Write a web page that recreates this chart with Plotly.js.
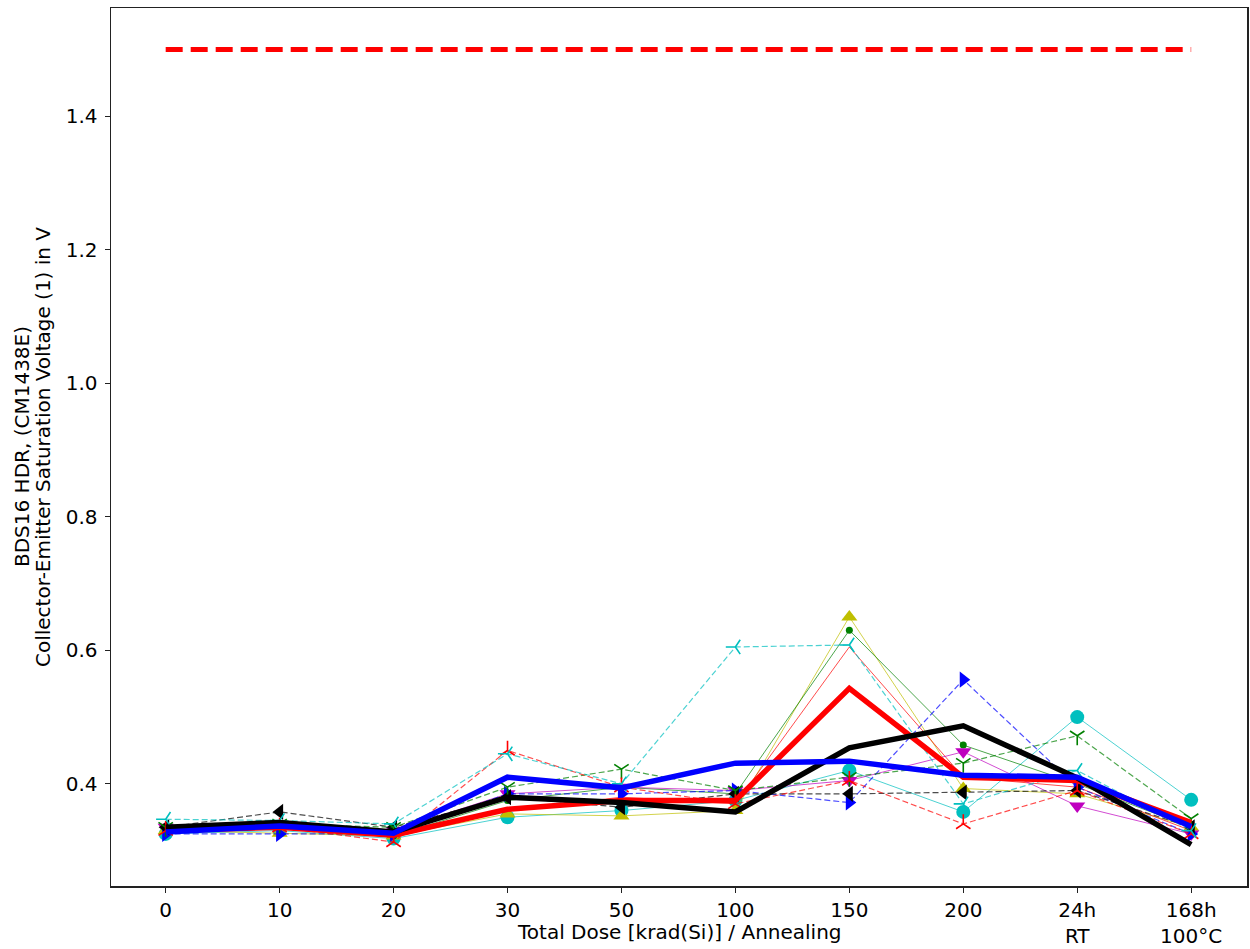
<!DOCTYPE html>
<html>
<head>
<meta charset="utf-8">
<script src="https://cdn.plot.ly/plotly-3.0.1.min.js"></script>
<style>html,body{margin:0;padding:0;background:#fff;}#chart{width:1250px;height:949px;}</style>
</head>
<body>
<div id="chart"></div>
<script>
// Categories (x axis)
const categories = ['0','10','20','30','50','100','150','200','24h<br>RT','168h<br>100°C'];

// Individual devices (solid lines)
const cyanCircle  = [0.325, 0.330, 0.318, 0.350, 0.360, 0.375, 0.420, 0.358, 0.500, 0.376];
const yellowTri   = [0.330, 0.326, 0.322, 0.355, 0.352, 0.360, 0.650, 0.393, 0.385, 0.335];
const greenDot    = [0.330, 0.340, 0.322, 0.375, 0.395, 0.385, 0.630, 0.458, 0.400, 0.335];
const redThin     = [0.330, 0.335, 0.320, 0.360, 0.380, 0.370, 0.605, 0.410, 0.395, 0.330];
const magentaTri  = [0.335, 0.340, 0.330, 0.385, 0.395, 0.390, 0.405, 0.448, 0.367, 0.325];
// Individual devices (dashed lines)
const blueRight   = [0.325, 0.325, 0.325, 0.385, 0.385, 0.390, 0.372, 0.556, 0.395, 0.325];
const blackLeft   = [0.335, 0.358, 0.335, 0.380, 0.365, 0.385, 0.385, 0.387, 0.390, 0.335];
const greenY      = [0.335, 0.340, 0.335, 0.395, 0.422, 0.390, 0.410, 0.431, 0.472, 0.348];
const redTriUp    = [0.330, 0.335, 0.313, 0.450, 0.395, 0.370, 0.405, 0.340, 0.390, 0.325];
const cyanTriLeft = [0.347, 0.345, 0.340, 0.445, 0.400, 0.605, 0.608, 0.370, 0.420, 0.330];
// Thick summary lines
const thickRed    = [0.330, 0.335, 0.323, 0.362, 0.375, 0.375, 0.543, 0.410, 0.405, 0.342];
const thickBlue   = [0.328, 0.337, 0.326, 0.410, 0.394, 0.431, 0.434, 0.413, 0.410, 0.336];
const thickBlack  = [0.335, 0.342, 0.328, 0.380, 0.372, 0.358, 0.454, 0.487, 0.409, 0.309];
// Limit
const limitValue = 1.5;

// Texts
const yTitle1 = 'BDS16 HDR, (CM1438E)';
const yTitle2 = 'Collector-Emitter Saturation Voltage (1) in V';
const xTitle = 'Total Dose [krad(Si)] / Annealing';

const C = {c:'#00bfbf', y:'#bfbf00', g:'#008000', r:'#ff0000', m:'#bf00bf', b:'#0000ff', k:'#000000'};
function rgba(hex,a){const n=parseInt(hex.slice(1),16);return `rgba(${n>>16&255},${n>>8&255},${n&255},${a})`;}

function thin(y, col, symbol, size, dashed, open){
  return {
    type:'scatter', mode:'lines+markers', x:categories, y:y,
    line:{color:rgba(col,0.7), width: dashed?1.2:1, dash: dashed?'6px,3px':'solid'},
    marker:{symbol:symbol, size:size, color:col, line:{color:col, width: open?1.6:0}},
    showlegend:false, hoverinfo:'skip'
  };
}
function thick(y,col){
  return {type:'scatter', mode:'lines', x:categories, y:y, line:{color:col, width:5.5}, showlegend:false, hoverinfo:'skip'};
}

const traces = [
  thin(cyanCircle, C.c, 'circle', 14, false),
  thin(yellowTri, C.y, 'triangle-up', 14, false),
  thin(greenDot, C.g, 'circle', 7, false),
  {type:'scatter', mode:'lines', x:categories, y:redThin, line:{color:rgba(C.r,0.7), width:1}, showlegend:false, hoverinfo:'skip'},
  thin(magentaTri, C.m, 'triangle-down', 14, false),
  thin(blueRight, C.b, 'triangle-right', 14, true),
  thin(blackLeft, C.k, 'triangle-left', 14, true),
  thin(greenY, C.g, 'y-down-open', 12, true, true),
  thin(redTriUp, C.r, 'y-up-open', 12, true, true),
  thin(cyanTriLeft, C.c, 'y-left-open', 12, true, true),
  thick(thickRed, C.r),
  thick(thickBlack, C.k),
  thick(thickBlue, C.b),
  {type:'scatter', mode:'lines', x:[categories[0], categories[categories.length-1]], y:[limitValue, limitValue],
   line:{color:C.r, width:5, dash:'17px,8px'}, showlegend:false, hoverinfo:'skip'}
];

const font = {family:'DejaVu Sans, sans-serif', size:20, color:'#000'};
const titleFont = {family:'DejaVu Sans, sans-serif', size:20, color:'#000'};
const layout = {
  width:1250, height:949,
  margin:{l:111, r:3, t:8, b:63},
  paper_bgcolor:'#fff', plot_bgcolor:'#fff',
  font:font,
  showlegend:false,
  xaxis:{type:'category', categoryorder:'array', categoryarray:categories,
    range:[-0.48, 9.49], showgrid:false, zeroline:false,
    showline:true, mirror:true, linecolor:'#222', linewidth:1.5,
    ticks:'outside', ticklen:5, tickcolor:'#222', tickfont:font},
  yaxis:{range:[0.247, 1.562], showgrid:false, zeroline:false,
    tickvals:[0.4,0.6,0.8,1.0,1.2,1.4], tickformat:'.1f',
    showline:true, mirror:true, linecolor:'#222', linewidth:1.5,
    ticks:'outside', ticklen:5, tickcolor:'#222', tickfont:font, ticklabelstandoff:3},
  annotations:[
    {text:yTitle1, xref:'paper', yref:'paper', x:0, y:0.5, xshift:-89, xanchor:'center', yanchor:'middle',
     textangle:-90, showarrow:false, font:titleFont},
    {text:yTitle2, xref:'paper', yref:'paper', x:0, y:0.5, xshift:-68, xanchor:'center', yanchor:'middle',
     textangle:-90, showarrow:false, font:titleFont},
    {text:xTitle, xref:'paper', yref:'paper', x:0.5, y:0,
     yshift:-46, xanchor:'center', yanchor:'middle', showarrow:false, font:font}
  ]
};

Plotly.newPlot('chart', traces, layout, {displayModeBar:false, staticPlot:true});
</script>
</body>
</html>
